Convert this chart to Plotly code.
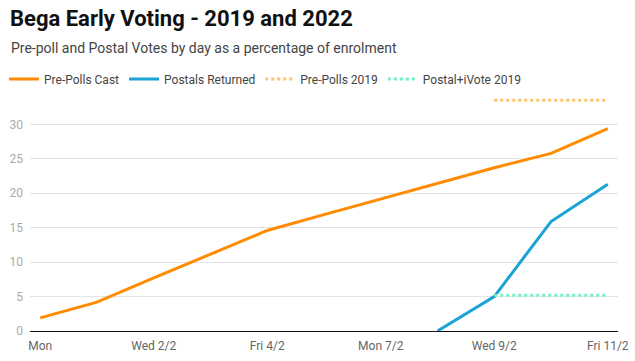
import plotly.graph_objects as go

days = ["Mon", "Tue 1/2", "Wed 2/2", "Thu 3/2", "Fri 4/2", "Sat 5/2",
        "Mon 7/2", "Tue 8/2", "Wed 9/2", "Thu 10/2", "Fri 11/2"]
tick_labels = ["Mon", "", "Wed 2/2", "", "Fri 4/2", "", "Mon 7/2", "", "Wed 9/2", "", "Fri 11/2"]

pre_polls_cast = [1.9, 4.2, 7.7, 11.1, 14.6, 16.9, 19.2, 21.5, 23.7, 25.8, 29.4]
postals_returned = [None, None, None, None, None, None, None, 0.0, 5.0, 15.9, 21.3]
pre_polls_2019 = [None, None, None, None, None, None, None, None, 33.5, 33.5, 33.5]
postal_ivote_2019 = [None, None, None, None, None, None, None, None, 5.2, 5.2, 5.2]

ORANGE = "#ff8c00"
BLUE = "#1ba3d4"
LIGHT_ORANGE = "#ffc46b"
AQUA = "#74f0c8"

fig = go.Figure()
fig.add_trace(go.Scatter(x=days, y=pre_polls_cast, name="Pre-Polls Cast", mode="lines",
                         line=dict(color=ORANGE, width=3)))
fig.add_trace(go.Scatter(x=days, y=postals_returned, name="Postals Returned", mode="lines",
                         line=dict(color=BLUE, width=3)))
fig.add_trace(go.Scatter(x=days, y=pre_polls_2019, name="Pre-Polls 2019", mode="lines",
                         line=dict(color=LIGHT_ORANGE, width=3, dash="dot")))
fig.add_trace(go.Scatter(x=days, y=postal_ivote_2019, name="Postal+iVote 2019", mode="lines",
                         line=dict(color=AQUA, width=3, dash="dot")))

PLOT_W = 635 - 30 - 17
PLOT_H = 361 - 90 - 30

fig.update_layout(
    width=635, height=361,
    margin=dict(l=30, r=17, t=90, b=30, autoexpand=False),
    paper_bgcolor="white", plot_bgcolor="white",
    font=dict(family="Roboto", size=12, color="#666666"),
    title=dict(text="<b>Bega Early Voting - 2019 and 2022</b>",
               x=10 / 635, xanchor="left", xref="container",
               y=1 - 18 / 361, yanchor="middle", yref="container",
               font=dict(family="Roboto", size=22, color="#111111")),
    legend=dict(orientation="h", x=-(30 - 4) / PLOT_W, xanchor="left",
                y=(331 - 79) / PLOT_H, yanchor="middle",
                font=dict(size=12, color="#444444"),
                itemwidth=30, traceorder="normal", bgcolor="rgba(0,0,0,0)"),
    showlegend=True,
    annotations=[dict(text="Pre-poll and Postal Votes by day as a percentage of enrolment",
                      xref="paper", yref="paper", x=-(30 - 9) / PLOT_W, y=(331 - 48) / PLOT_H,
                      xanchor="left", yanchor="middle", showarrow=False,
                      font=dict(family="Roboto", size=14, color="#444444"))],
)
fig.update_xaxes(type="category", range=[-0.18, 10.18], automargin=False,
                 tickmode="array", tickvals=days, ticktext=tick_labels,
                 showgrid=False, showline=True, linecolor="#111111", linewidth=1,
                 ticks="", ticklabelstandoff=4, tickfont=dict(size=12, color="#666666"))
fig.update_yaxes(range=[0, 35], tickvals=[0, 5, 10, 15, 20, 25, 30], automargin=False,
                 showgrid=True, gridcolor="#e3e3e3", gridwidth=1, zeroline=False,
                 showline=False, ticks="", ticklabelstandoff=6,
                 tickfont=dict(size=12, color="#aaaaaa"))

fig.write_html("out.html", config={"displayModeBar": False},
               post_script="document.body.style.margin='0px';")
